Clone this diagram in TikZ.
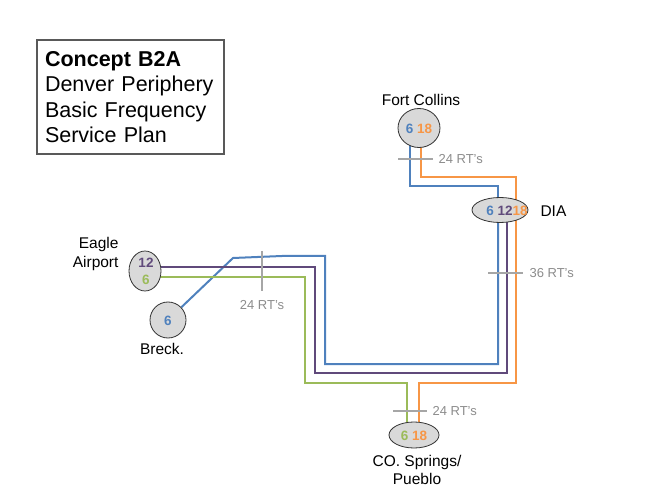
\documentclass[tikz,border=0pt]{standalone}
\usepackage{fontspec}
\setmainfont{Liberation Sans}
\usetikzlibrary{calc,shapes.geometric,backgrounds}
\definecolor{LineBlue}{HTML}{4F81BD}
\definecolor{LinePurple}{HTML}{604A7B}
\definecolor{LineGreen}{HTML}{9BBB59}
\definecolor{LineOrange}{HTML}{F79646}
\definecolor{TickGray}{HTML}{A6A6A6}
\definecolor{StopFill}{HTML}{D9D9D9}

\begin{document}
\begin{tikzpicture}[x=1pt, y=-1pt,
  route/.style={line width=2pt},
  stopnode/.style={ellipse, draw=black!80, fill=StopFill, line width=0.8pt, inner sep=0pt},
  rtmark/.style={TickGray, line width=2pt},
  rtlabel/.style={text=black!45, font=\fontsize{13}{15}\selectfont},
  city/.style={font=\fontsize{15.5}{18.5}\selectfont, align=center},
  num/.style={font=\fontsize{13.5}{16}\selectfont\bfseries}]
  \useasboundingbox (0,0) rectangle (663,502);
  \node[draw=black!65, line width=1.2pt, minimum width=187pt, minimum height=114pt,
        text width=171pt, align=left, font=\fontsize{21.5}{25.5}\selectfont] (title) at (130.5,97)
        {\textbf{Concept B2A}\\Denver Periphery\\Basic Frequency\\Service Plan};
  % stations
  \node[stopnode, minimum width=42pt, minimum height=39pt] (fc) at (419,128) {};
  \node[stopnode, minimum width=56pt, minimum height=25pt] (dia) at (500,210) {};
  \node[stopnode, minimum width=32pt, minimum height=40pt] (eagle) at (145,271) {};
  \node[stopnode, minimum width=36pt, minimum height=36pt] (breck) at (168,320) {};
  \node[stopnode, minimum width=50pt, minimum height=26pt] (co) at (414,435) {};
  \node[num] (fcnum) at (419,129) {\textcolor{LineBlue}{6} \textcolor{LineOrange}{18}};
  \node[num] (dianum) at (507,211) {\textcolor{LineBlue}{6} \textcolor{LinePurple}{12}\textcolor{LineOrange}{18}};
  \node[num] (eaglenum) at (146,263) {\textcolor{LinePurple}{12}};
  \node[num] (eaglenumb) at (146,280) {\textcolor{LineGreen}{6}};
  \node[num] (brecknum) at (168,321) {\textcolor{LineBlue}{6}};
  \node[num] (conum) at (414,436) {\textcolor{LineGreen}{6} \textcolor{LineOrange}{18}};
  % names
  \node[city] (fclabel) at (421,100) {Fort Collins};
  \node[city, align=right, anchor=east] (eaglelabel) at (122,254) {Eagle\\Airport};
  \node[city] (brecklabel) at (162,349) {Breck.};
  \node[city, anchor=west] (dialabel) at (537,211) {DIA};
  \node[city] (colabel) at (417,470) {CO. Springs/\\Pueblo};
  % routes
  \begin{scope}[on background layer]
    \draw[route, LineBlue] ($(fc)+(-9,0)$) -- (410,186) -- (498,186) -- ($(dia)+(-2,0)$);
    \draw[route, LineBlue] ($(dia)+(-2,0)$) -- (498,364) -- (325,364) -- (325,256)
      -- (282,256) -- (233,258) -- (breck);
    \draw[route, LinePurple] ($(eagle)+(0,-4)$) -- (315,267) -- (315,373) -- (507,373) -- ($(dia)+(7,0)$);
    \draw[route, LineGreen] ($(eagle)+(0,6)$) -- (305,277) -- (305,383) -- (407,383) -- ($(co)+(-7,0)$);
    \draw[route, LineOrange] ($(fc)+(2,0)$) -- (421,177) -- (516,177) -- ($(dia)+(16,0)$)
      -- (516,383) -- (419,383) -- ($(co)+(5,0)$);
  \end{scope}
  % round trips
  \draw[rtmark] (398,159) -- (433,159);
  \node[rtlabel, anchor=west] (fcrt) at (435,159) {24 RT's};
  \draw[rtmark] (262,251) -- (262,291);
  \node[rtlabel] (eaglert) at (262,305) {24 RT's};
  \draw[rtmark] (488,273) -- (523,273);
  \node[rtlabel, anchor=west] (diart) at (526,273) {36 RT's};
  \draw[rtmark] (393,411) -- (427,411);
  \node[rtlabel, anchor=west] (cort) at (429,411) {24 RT's};
\end{tikzpicture}
\end{document}
